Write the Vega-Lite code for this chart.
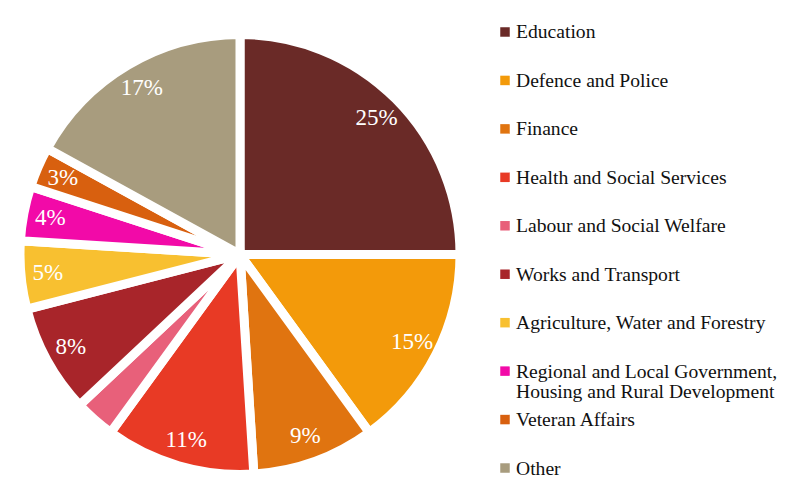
{
  "$schema": "https://vega.github.io/schema/vega-lite/v6.json",
  "padding": {"left": 0, "top": 16, "right": 0, "bottom": 0},
  "autosize": {"type": "pad"},
  "background": "white",
  "spacing": 0,
  "config": {"view": {"stroke": null}},
  "data": {
    "values": [
      {"idx": 1, "category": "Education", "value": 25, "pct": "25%"},
      {"idx": 2, "category": "Defence and Police", "value": 15, "pct": "15%"},
      {"idx": 3, "category": "Finance", "value": 9, "pct": "9%"},
      {"idx": 4, "category": "Health and Social Services", "value": 11, "pct": "11%"},
      {"idx": 5, "category": "Labour and Social Welfare", "value": 3, "pct": ""},
      {"idx": 6, "category": "Works and Transport", "value": 8, "pct": "8%"},
      {"idx": 7, "category": "Agriculture, Water and  Forestry", "value": 5, "pct": "5%"},
      {"idx": 8, "category": "Regional and Local Government,\nHousing and Rural Development", "value": 4, "pct": "4%"},
      {"idx": 9, "category": "Veteran Affairs", "value": 3, "pct": "3%"},
      {"idx": 10, "category": "Other", "value": 17, "pct": "17%"}
    ]
  },
  "resolve": {"scale": {"color": "shared"}},
  "hconcat": [
    {
      "width": 480,
      "height": 477,
      "encoding": {
        "theta": {"field": "value", "type": "quantitative", "stack": true},
        "order": {"field": "idx", "type": "quantitative"},
        "color": {
          "field": "category",
          "type": "nominal",
          "sort": {"field": "idx"},
          "scale": {
            "domain": ["Education", "Defence and Police", "Finance", "Health and Social Services", "Labour and Social Welfare", "Works and Transport", "Agriculture, Water and  Forestry", "Regional and Local Government,\nHousing and Rural Development", "Veteran Affairs", "Other"],
            "range": ["#6A2A27", "#F39A0A", "#E07410", "#E83A25", "#E8607A", "#A8252A", "#F8C030", "#F20AA8", "#D8600F", "#A89C7E"]
          },
          "legend": null
        }
      },
      "layer": [
        {
          "mark": {"type": "arc", "outerRadius": 220, "stroke": "white", "strokeWidth": 9}
        },
        {
          "mark": {"type": "text", "radius": 193, "font": "Liberation Serif", "fontSize": 23, "fill": "white"},
          "encoding": {
            "text": {"field": "pct"},
            "color": {"value": "white"}
          }
        }
      ]
    },
    {
      "width": 50,
      "height": 468,
      "encoding": {
        "y": {
          "field": "category",
          "type": "nominal",
          "sort": {"field": "idx"},
          "scale": {"padding": 0.33},
          "axis": null
        }
      },
      "layer": [
        {
          "mark": {"type": "point", "shape": "square", "filled": true, "size": 90, "opacity": 1, "strokeWidth": 0},
          "encoding": {
            "color": {"field": "category", "type": "nominal", "legend": null}
          }
        },
        {
          "mark": {"type": "text", "align": "left", "baseline": "alphabetic", "dx": 11, "dy": 6.5, "lineBreak": "\n", "lineHeight": 20, "font": "Liberation Serif", "fontSize": 19.6, "color": "#111111"},
          "encoding": {
            "text": {"field": "category"}
          }
        }
      ]
    }
  ]
}
